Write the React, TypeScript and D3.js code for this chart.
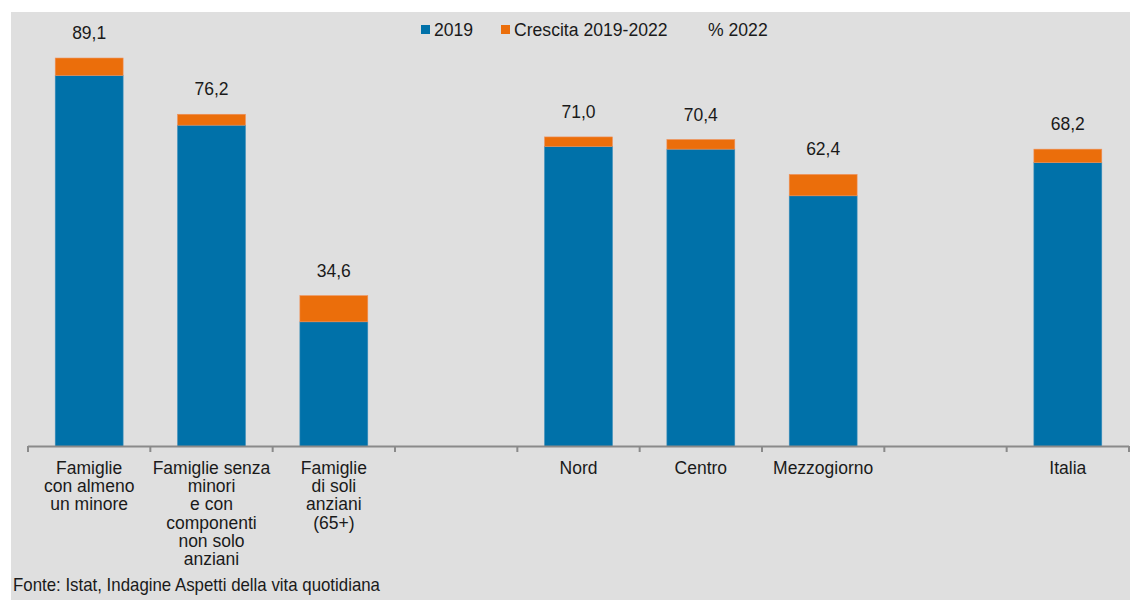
import React from "react";
import * as d3 from "d3";

const categories = [
  ["Famiglie", "con almeno", "un minore"],
  ["Famiglie senza", "minori", "e con", "componenti", "non solo", "anziani"],
  ["Famiglie", "di soli", "anziani", "(65+)"],
  [],
  ["Nord"],
  ["Centro"],
  ["Mezzogiorno"],
  [],
  ["Italia"],
];
const values2019: (number | null)[] = [85.1, 73.7, 28.6, null, 68.8, 68.2, 57.5, null, 65.1];
const values2022: (number | null)[] = [89.1, 76.2, 34.6, null, 71.0, 70.4, 62.4, null, 68.2];
const legendLabels = ["2019", "Crescita 2019-2022", "% 2022"];
const source = "Fonte: Istat, Indagine Aspetti della vita quotidiana";

const W = 1130;
const H = 600;
const BLUE = "#0071a9";
const ORANGE = "#eb6e0b";
const BG = "#dfdfdf";
const TEXT = "#1a1a1a";
const AXIS = "#8a8a8a";
const FONT = "'Liberation Sans', Arial, sans-serif";

export default function App() {
  const idx = categories.map((_, i) => String(i));
  const x = d3.scaleBand<string>().domain(idx).range([28, 1129]).paddingInner(0).paddingOuter(0);
  const y = d3.scaleLinear().domain([0, 100]).range([446.5, 10.5]);
  const bw = x.bandwidth() * 0.555;
  const ticks = d3.range(categories.length + 1).map((i) => 28 + i * x.step());

  return (
    <svg width={W} height={H} style={{ position: "absolute", left: 0, top: 0 }} fontFamily={FONT}>
      <rect x={0} y={0} width={W} height={H} fill="#ffffff" />
      <rect x={11} y={12} width={W - 11} height={H - 12} fill={BG} />

      {/* legend */}
      <g fontSize={17.6} fill={TEXT}>
        <rect x={421} y={25} width={9} height={9} fill={BLUE} />
        <text x={434} y={35.5}>{legendLabels[0]}</text>
        <rect x={501} y={25} width={9} height={9} fill={ORANGE} />
        <text x={514} y={35.5}>{legendLabels[1]}</text>
        <text x={708} y={35.5}>{legendLabels[2]}</text>
      </g>

      {/* bars */}
      {idx.map((k, i) => {
        const v19 = values2019[i];
        const v22 = values2022[i];
        if (v19 == null || v22 == null) return null;
        const cx = (x(k) as number) + x.bandwidth() / 2;
        const x0 = cx - bw / 2;
        return (
          <g key={k}>
            <rect x={x0} y={y(v19)} width={bw} height={y(0) - y(v19)} fill={BLUE} stroke="#3d8fbb" strokeWidth={0.6} />
            <rect x={x0} y={y(v22)} width={bw} height={y(v19) - y(v22)} fill={ORANGE} stroke="#f0915a" strokeWidth={0.6} />
            <text x={cx} y={y(v22) - 19} textAnchor="middle" fontSize={17.5} fill={TEXT}>
              {d3.format(".1f")(v22).replace(".", ",")}
            </text>
          </g>
        );
      })}

      {/* axis */}
      <line x1={28} x2={1129} y1={446.5} y2={446.5} stroke={AXIS} strokeWidth={2} />
      {ticks.map((t, i) => (
        <line key={i} x1={t} x2={t} y1={446} y2={452} stroke={AXIS} strokeWidth={2} />
      ))}

      {/* category labels */}
      {idx.map((k, i) => {
        const cx = (x(k) as number) + x.bandwidth() / 2;
        return (
          <text key={k} x={cx} y={474} textAnchor="middle" fontSize={17.5} fill={TEXT}>
            {categories[i].map((line, j) => (
              <tspan key={j} x={cx} dy={j === 0 ? 0 : 18.2}>
                {line}
              </tspan>
            ))}
          </text>
        );
      })}

      <text x={13} y={591} fontSize={18.5} fill={TEXT} textLength={367} lengthAdjust="spacingAndGlyphs">
        {source}
      </text>
    </svg>
  );
}
